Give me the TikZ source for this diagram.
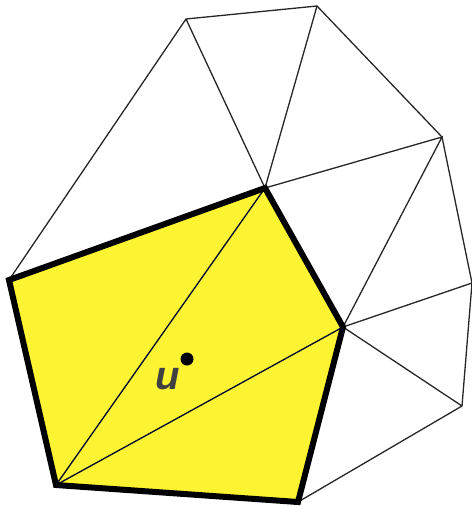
\documentclass[tikz,border=0pt]{standalone}
\usepackage{fontspec}
\setmainfont{Liberation Sans}
\definecolor{polyyellow}{RGB}{252,243,50}
\definecolor{labelgray}{RGB}{64,64,64}
\begin{document}
\begin{tikzpicture}[x=1pt,y=-1pt,
  thinedge/.style={draw=black!85,line width=1.3pt},
  thickedge/.style={draw=black,line width=6pt,line join=miter},
  diag/.style={draw=black!80!blue,line width=1.3pt}]
\useasboundingbox (0,0) rectangle (472,507);
\coordinate (A) at (9,280);
\coordinate (B) at (265,188);
\coordinate (C) at (343,327);
\coordinate (D) at (298,502);
\coordinate (E) at (56,485);
\coordinate (P1) at (186,19);
\coordinate (P2) at (317,6);
\coordinate (P3) at (442,137);
\coordinate (P4) at (472,283);
\coordinate (P5) at (462,406);
\fill[polyyellow] (A) -- (B) -- (C) -- (D) -- (E) -- cycle;
\draw[thinedge] (A) -- (P1) -- (P2) -- (P3) -- (P4) -- (P5) -- (D);
\draw[thinedge] (P1) -- (B) -- (P2);
\draw[thinedge] (B) -- (P3) -- (C) -- (P4);
\draw[thinedge] (C) -- (P5);
\draw[diag] (E) -- (B);
\draw[diag] (E) -- (C);
\draw[thickedge] (A) -- (B) -- (C) -- (D) -- (E) -- cycle;
\fill[black] (187,359) circle (6.5);
\node[text=labelgray,font=\fontsize{40}{40}\selectfont\bfseries\itshape] (u) at (168,379) {u};
\end{tikzpicture}
\end{document}
